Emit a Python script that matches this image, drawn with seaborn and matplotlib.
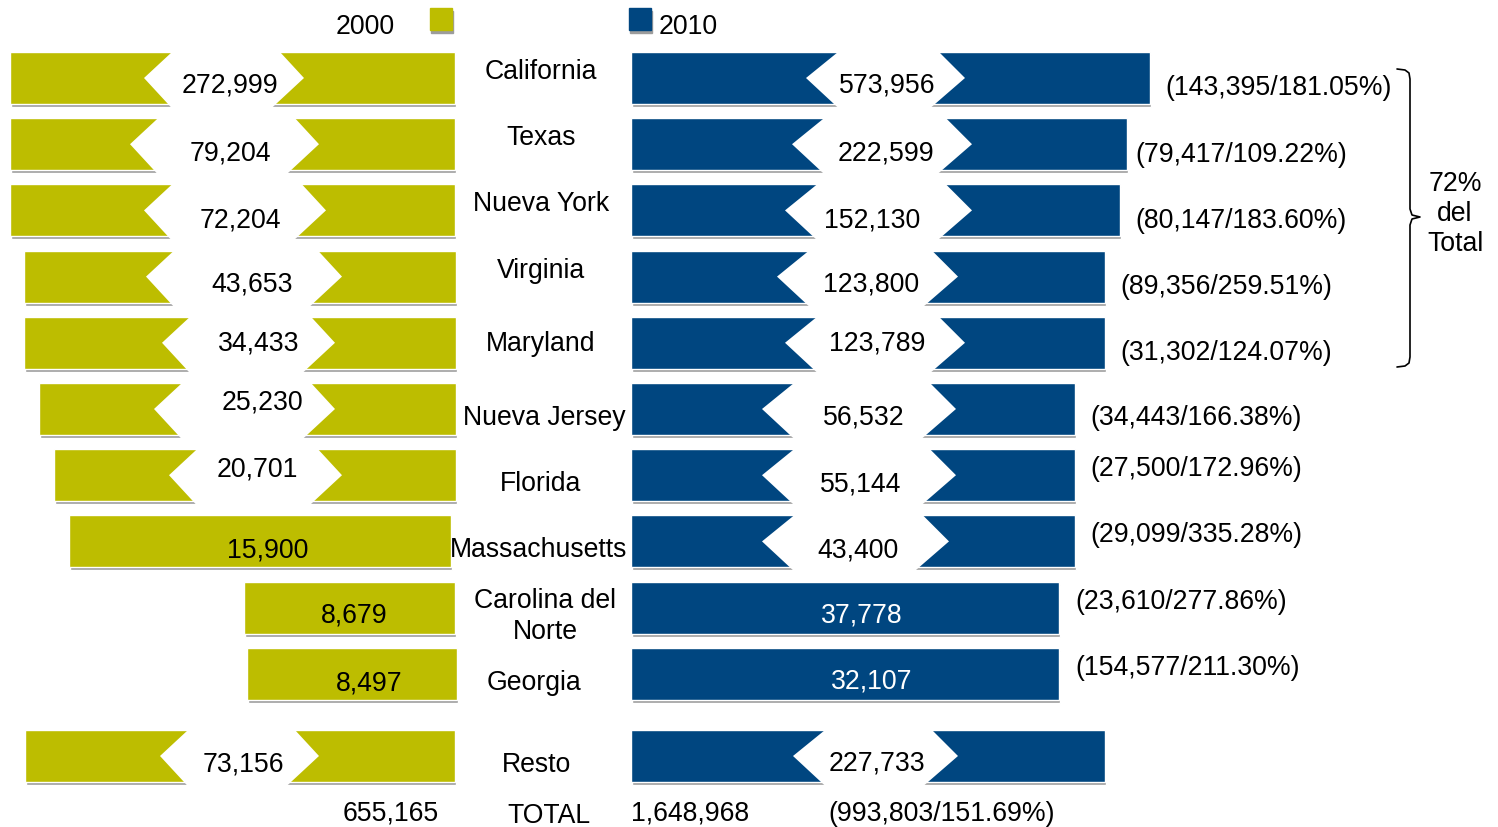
import numpy as np
import matplotlib.pyplot as plt
import seaborn as sns
from matplotlib.patches import Polygon, Rectangle

# ---- data ----
states = ["California", "Texas", "Nueva York", "Virginia", "Maryland",
          "Nueva Jersey", "Florida", "Massachusetts", "Carolina del\nNorte",
          "Georgia", "Resto"]
pop_2000 = [272999, 79204, 72204, 43653, 34433, 25230, 20701, 15900, 8679, 8497, 73156]
pop_2010 = [573956, 222599, 152130, 123800, 123789, 56532, 55144, 43400, 37778, 32107, 227733]
change_abs = [143395, 79417, 80147, 89356, 31302, 34443, 27500, 29099, 23610, 154577]
change_pct = [181.05, 109.22, 183.60, 259.51, 124.07, 166.38, 172.96, 335.28, 277.86, 211.30]
total_2000 = 655165
total_2010 = 1648968
total_change = 993803
total_change_pct = 151.69
share_top5 = 72

# ---- layout (chart is not to scale: bars are "broken") ----
# drawn extents of the bars, in pixels of the 1498x828 canvas
start_2000 = [10, 10, 10, 24, 24, 39, 54, 69, 244, 247, 25]
end_2000 = [455, 455, 455, 456, 456, 456, 456, 451, 455, 457, 455]
break_2000 = [(172, 280), (158, 295), (172, 302), (174, 318), (190, 311), (182, 311),
              (197, 318), None, None, None, (188, 295)]
start_2010 = 631
end_2010 = [1150, 1127, 1120, 1105, 1105, 1075, 1075, 1075, 1059, 1059, 1105]
break_2010 = [(838, 939), (824, 946), (817, 946), (809, 932), (817, 939), (794, 930),
              (794, 930), (794, 923), None, None, (825, 932)]

# small label nudges, as in the original slide
dy_2000 = [5, 6, 7, 5, -2, -9, -9, 6, 5, 7, 6]
dx_2000 = [4, 4, 3, 6, 8, 16, 0, 8, 5, 17, 2]
dy_2010 = [5, 6, 7, 5, -2, 6, 6, 6, 5, 5, 5]
dx_2010 = [-1, 1, -9, 1, -1, 2, -1, -1, 17, 27, -2]
dy_state = [-9, -9, -9, -9, -2, 6, 6, 6, 6, 6, 6]
dx_state = [0, 0, 0, 0, 0, 3, 0, -2, 4, -7, -4]
dy_chg = [7, 8, 8, 7, 7, 6, -9, -9, -9, -9]
dx_chg = [15, 8, 15, 15, 15, 15, 15, 15, 16, 16]

OLIVE = "#BDBD00"
NAVY = "#004680"
SHADOW = "#9c9c9c"

sns.set_theme(style="white")
plt.rcParams["font.family"] = ["Liberation Sans", "DejaVu Sans"]
FS = 19.2
TY = 2  # text baseline nudge

fig = plt.figure(figsize=(14.98, 8.28), dpi=100)
ax = fig.add_axes([0, 0, 1, 1])
ax.set_xlim(0, 1498)
ax.set_ylim(828, 0)
ax.axis("off")

centers = list(79 + 66.2 * np.arange(10)) + [757]
h = 52


def gap_patch(yc, a, b, dl=28, dr=24, s=4, e=7):
    top, bot, half = yc - h / 2, yc + h / 2, h / 2
    pts = [
        (a + dl * e / half, top - e),
        (a - dl, yc),
        (a - s + (dl - s) * e / half, bot + e),
        (b - s - (dr + s) * e / half, bot + e),
        (b + dr, yc),
        (b - dr * e / half, top - e),
    ]
    return Polygon(pts, closed=True, facecolor="white", edgecolor="none", zorder=3)


def fmt(v):
    return "{:,}".format(v)


def label(x, y, s, **kw):
    kw.setdefault("ha", "center")
    kw.setdefault("va", "center")
    kw.setdefault("fontsize", FS)
    kw.setdefault("color", "black")
    kw.setdefault("zorder", 4)
    ax.text(x, y + TY, s, **kw)


# bars: shadow first, then the bar itself
w2000 = np.array(end_2000) - np.array(start_2000)
w2010 = np.array(end_2010) - start_2010
ax.barh(np.array(centers) + 3, w2000, left=np.array(start_2000) + 1, height=h,
        color=SHADOW, zorder=1)
ax.barh(centers, w2000, left=start_2000, height=h, color=OLIVE, zorder=2)
ax.barh(np.array(centers) + 3, w2010, left=start_2010 + 1, height=h, color=SHADOW, zorder=1)
ax.barh(centers, w2010, left=start_2010, height=h, color=NAVY, zorder=2)

for i, yc in enumerate(centers):
    # 2000 side
    if break_2000[i]:
        a, b = break_2000[i]
        ax.add_patch(gap_patch(yc, a, b))
        x0 = (a + b) / 2
    else:
        x0 = (start_2000[i] + end_2000[i]) / 2
    label(x0 + dx_2000[i], yc + dy_2000[i], fmt(pop_2000[i]))

    # 2010 side
    if break_2010[i]:
        a, b = break_2010[i]
        ax.add_patch(gap_patch(yc, a, b, dl=32, dr=26))
        x1 = (a + b) / 2
        col = "black"
    else:
        x1 = (start_2010 + end_2010[i]) / 2
        col = "white"
    label(x1 + dx_2010[i], yc + dy_2010[i], fmt(pop_2010[i]), color=col)

    # state name
    label(541 + dx_state[i], yc + dy_state[i], states[i], linespacing=1.25)

    # change label
    if i < len(change_abs):
        label(end_2010[i] + dx_chg[i], yc + dy_chg[i],
              "({}/{:.2f}%)".format(fmt(change_abs[i]), change_pct[i]), ha="left")

# totals row
label(391, 812, fmt(total_2000))
label(549, 814, "TOTAL")
label(631, 812, fmt(total_2010), ha="left")
label(942, 812, "({}/{:.2f}%)".format(fmt(total_change), total_change_pct))

# legend
ax.add_patch(Rectangle((431, 12), 22, 22, color=SHADOW, zorder=1))
ax.add_patch(Rectangle((430, 9), 22, 22, color=OLIVE, zorder=2))
ax.add_patch(Rectangle((630, 12), 22, 22, color=SHADOW, zorder=1))
ax.add_patch(Rectangle((629, 9), 22, 22, color=NAVY, zorder=2))
label(395, 25, "2000", ha="right")
label(659, 25, "2010", ha="left")

# brace around the first five states
bx = [1397, 1405, 1409, 1410, 1410, 1412, 1420, 1412, 1410, 1410, 1409, 1405, 1397]
by = [70, 71, 74, 80, 210, 216, 218, 220, 226, 358, 364, 367, 368]
ax.plot(bx, by, color="black", lw=1.2, solid_joinstyle="round")
label(1455, 212, "{}%\ndel\nTotal".format(share_top5), linespacing=1.2)

fig.savefig("out.png", dpi=100)
